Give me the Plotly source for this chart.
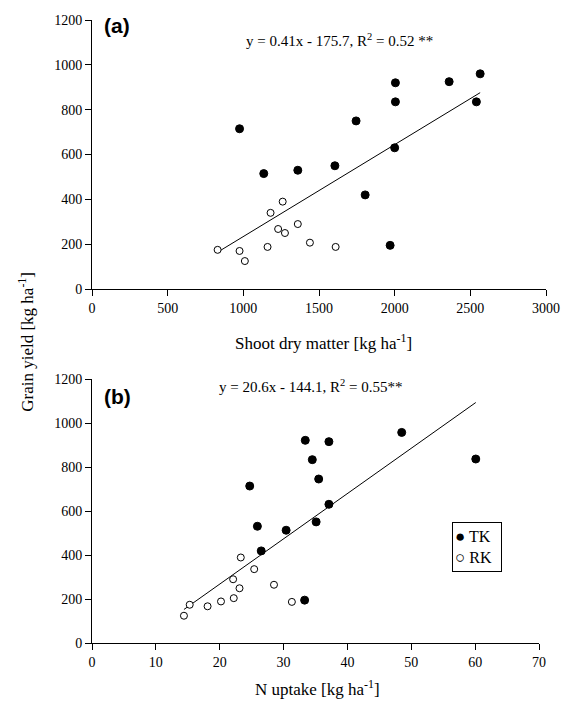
import plotly.graph_objects as go

# ---------------- Data ----------------
# Panel (a): shoot dry matter vs grain yield
sdm_tk = [975, 1745, 2005, 2005, 2360, 2565, 2540, 2000, 1135, 1360, 1605, 1805, 1970]
gy_a_tk = [715, 750, 920, 835, 925, 960, 835, 630, 515, 530, 550, 420, 195]
sdm_rk = [830, 975, 1010, 1160, 1180, 1260, 1230, 1275, 1360, 1440, 1610]
gy_a_rk = [175, 170, 125, 188, 340, 390, 268, 250, 290, 207, 188]

# Panel (b): N uptake vs grain yield
nup_tk = [33.4, 37.1, 34.5, 35.5, 24.7, 37.1, 48.5, 60.1, 25.9, 30.4, 35.1, 26.5, 33.3]
gy_b_tk = [922, 916, 834, 746, 714, 631, 958, 837, 531, 513, 551, 419, 195]
nup_rk = [14.4, 15.3, 18.1, 20.2, 22.2, 22.1, 23.1, 23.3, 25.4, 28.5, 31.3]
gy_b_rk = [124, 174, 167, 189, 204, 290, 249, 389, 336, 265, 187]

# Regression coefficients (from the figure)
slope_a, icpt_a = 0.41, -175.7
slope_b, icpt_b = 20.6, -144.1

xticks_a = [0, 500, 1000, 1500, 2000, 2500, 3000]
xticks_b = [0, 10, 20, 30, 40, 50, 60, 70]
yticks = [0, 200, 400, 600, 800, 1000, 1200]

# ---------------- Figure ----------------
OFF = 8  # page body margin
W, H = 574 - OFF, 703 - OFF
ML, MR, MT, MB = 92 - OFF, 28, 20 - OFF, 703 - 643.5
PW, PH = W - ML - MR, H - MT - MB

def px(x):
    return (x - OFF - ML) / PW

def py(y):
    return (H - MB - (y - OFF)) / PH

SERIF = "Liberation Serif"
SANS = "Liberation Sans"

fig = go.Figure()

solid = dict(color="black", size=8, symbol="circle", line=dict(color="black", width=1))
hollow = dict(color="white", size=7, symbol="circle", line=dict(color="black", width=1))

# Panel (a)
xa_all = sdm_tk + sdm_rk
xa_line = [min(xa_all), max(xa_all)]
fig.add_trace(go.Scatter(x=xa_line, y=[slope_a * v + icpt_a for v in xa_line], mode="lines",
                         line=dict(color="black", width=1), showlegend=False,
                         xaxis="x", yaxis="y"))
fig.add_trace(go.Scatter(x=sdm_tk, y=gy_a_tk, mode="markers", marker=solid, name="TK",
                         showlegend=False, xaxis="x", yaxis="y"))
fig.add_trace(go.Scatter(x=sdm_rk, y=gy_a_rk, mode="markers", marker=hollow, name="RK",
                         showlegend=False, xaxis="x", yaxis="y"))

# Panel (b)
xb_all = nup_tk + nup_rk
xb_line = [min(xb_all), max(xb_all)]
fig.add_trace(go.Scatter(x=xb_line, y=[slope_b * v + icpt_b for v in xb_line], mode="lines",
                         line=dict(color="black", width=1), showlegend=False,
                         xaxis="x2", yaxis="y2"))
fig.add_trace(go.Scatter(x=nup_tk, y=gy_b_tk, mode="markers", marker=solid, name="TK",
                         showlegend=False, xaxis="x2", yaxis="y2"))
fig.add_trace(go.Scatter(x=nup_rk, y=gy_b_rk, mode="markers", marker=hollow, name="RK",
                         showlegend=False, xaxis="x2", yaxis="y2"))

axis_common = dict(showline=True, linecolor="black", linewidth=1, ticks="outside",
                   ticklen=6, tickcolor="black", tickwidth=1, showgrid=False,
                   zeroline=False, mirror=False,
                   tickfont=dict(family=SERIF, size=14, color="black"))

fig.update_layout(
    width=W, height=H,
    margin=dict(l=ML, r=MR, t=MT, b=MB, autoexpand=False),
    paper_bgcolor="white", plot_bgcolor="white",
    xaxis=dict(domain=[0, 1], anchor="y", range=[0, 3000], tickvals=xticks_a, **axis_common),
    yaxis=dict(domain=[py(289.3), 1], anchor="x", range=[0, 1200], tickvals=yticks, **axis_common),
    xaxis2=dict(domain=[0, px(539)], anchor="y2", range=[0, 70], tickvals=xticks_b, **axis_common),
    yaxis2=dict(domain=[0, py(379.5)], anchor="x2", range=[0, 1200], tickvals=yticks, **axis_common),
    showlegend=False,
)

def ann(text, x, y, size, family=SERIF, bold=False, angle=0, **kw):
    fig.add_annotation(text=f"<b>{text}</b>" if bold else text,
                       xref="paper", yref="paper", x=px(x), y=py(y),
                       xanchor="center", yanchor="middle", showarrow=False,
                       textangle=angle,
                       font=dict(family=family, size=size, color="black"), **kw)

ann("(a)", 117, 26, 21, family=SANS, bold=True)
ann("y = 0.41x - 175.7, R<sup>2</sup> = 0.52 **", 339, 40, 15)
ann("Shoot dry matter [kg ha<sup>-1</sup>]", 323, 342, 17)
ann("(b)", 117, 397, 21, family=SANS, bold=True)
ann("y = 20.6x - 144.1, R<sup>2</sup> = 0.55**", 310, 386, 15)
ann("N uptake [kg ha<sup>-1</sup>]", 317, 689, 17)
ann("Grain yield [kg ha<sup>-1</sup>]", 26, 342, 17, angle=-90)

# Legend box (TK / RK)
sym = '<span style="font-size:17px">{}</span>'
ann(sym.format("\u25cf") + " TK<br>" + sym.format("\u25cb") + " RK", 477, 547, 16,
    family=SERIF, align="left",
    bordercolor="black", borderwidth=1, borderpad=2, bgcolor="white",
    width=44, height=44)

fig.write_html("out.html")
